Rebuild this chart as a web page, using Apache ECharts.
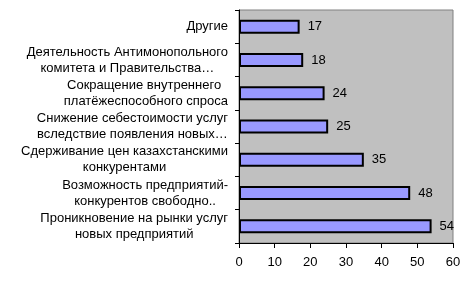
<!DOCTYPE html>
<html><head><meta charset="utf-8">
<script src="https://cdn.jsdelivr.net/npm/echarts@6/dist/echarts.min.js"></script>
<style>html,body{margin:0;padding:0;background:#fff}#c{width:473px;height:282px}</style>
</head><body><div id="c"></div>
<script>
var categories = [
  "Другие",
  "Деятельность Антимонопольного\nкомитета и Правительства…",
  "Сокращение внутреннего \nплатёжеспособного спроса",
  "Снижение себестоимости услуг\nвследствие появления новых…",
  "Сдерживание цен казахстанскими\nконкурентами",
  "Возможность предприятий-\nконкурентов свободно..",
  "Проникновение на рынки услуг\nновых предприятий"
];
var values = [17, 18, 24, 25, 35, 48, 54];
var xTicks = {min: 0, max: 60, interval: 10};

var chart = echarts.init(document.getElementById('c'), null, {renderer: 'canvas'});
chart.setOption({
  animation: false,
  backgroundColor: '#ffffff',
  textStyle: {fontFamily: 'Liberation Sans, Arial, sans-serif'},
  grid: {left: 239, right: 20, top: 10, bottom: 39, show: true,
         backgroundColor: '#c0c0c0', borderColor: '#808080', borderWidth: 1},
  xAxis: {
    type: 'value', min: xTicks.min, max: xTicks.max, interval: xTicks.interval,
    axisLine: {show: true, lineStyle: {color: '#000', width: 1}},
    axisTick: {show: true, length: 5, lineStyle: {color: '#000'}},
    axisLabel: {color: '#000', fontSize: 13, margin: 13, fontFamily: 'Liberation Sans'},
    splitLine: {show: false}
  },
  yAxis: {
    type: 'category', data: categories, inverse: true,
    axisLine: {show: true, lineStyle: {color: '#000', width: 1}},
    axisTick: {show: true, length: 4, lineStyle: {color: '#000'}},
    axisLabel: {
      color: '#000', fontSize: 13, margin: 11, align: 'right',
      lineHeight: 16, fontFamily: 'Liberation Sans',
      formatter: function (v) {
        return v.split('\n').map(function (s) { return '{c|' + s + '}'; }).join('\n');
      },
      rich: {c: {align: 'center', fontSize: 13, lineHeight: 16, color: '#000',
                 fontFamily: 'Liberation Sans'}}
    },
    splitLine: {show: false}
  },
  series: [{
    type: 'bar', data: values, barWidth: 14,
    itemStyle: {color: '#9999ff', borderColor: '#000', borderWidth: 2},
    label: {show: true, position: 'right', distance: 8, color: '#000',
            fontSize: 13, fontFamily: 'Liberation Sans'}
  }]
});
</script></body></html>
